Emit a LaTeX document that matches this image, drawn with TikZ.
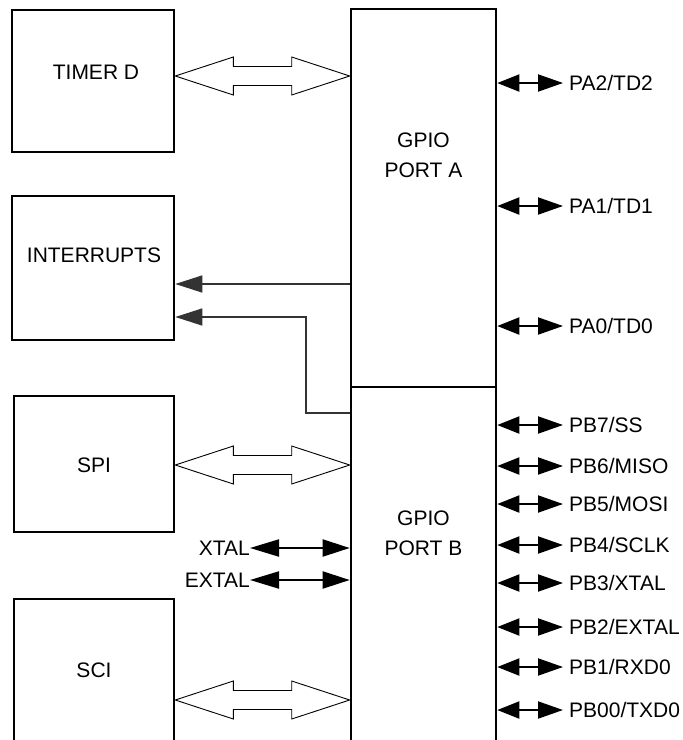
\documentclass[tikz,border=0pt]{standalone}
\usepackage{fontspec}
\setmainfont{Liberation Sans}
\usetikzlibrary{arrows.meta,calc}
\definecolor{ink}{HTML}{333333}
\newcommand\hollowdbl[2]{%
  \draw[hollow] let \p1=#1, \p2=#2, \n1={\x2-\x1-116pt} in
    (\p1) -- ++(58,-19) -- ++(0,9.5) -- ++(\n1,0) -- ++(0,-9.5) -- (\p2)
    -- ++(-58,19) -- ++(0,-9.5) -- ++(-\n1,0) -- ++(0,9.5) -- cycle;}
\begin{document}
\begin{tikzpicture}[x=1pt,y=-1pt,
  blk/.style={draw, line width=2.6pt, inner sep=0pt},
  lbl/.style={font=\fontsize{21}{30}\selectfont, inner sep=0pt, align=center},
  hollow/.style={draw=black, line width=0.9pt, fill=white, line join=miter},
  pin/.style={line width=2pt, {Triangle[length=22pt,width=17pt]}-{Triangle[length=25pt,width=17pt]}},
  xpin/.style={line width=2pt, {Triangle[length=29pt,width=17pt]}-{Triangle[length=27pt,width=17pt]}},
  intarrow/.style={draw=ink, line width=1.4pt, -{Triangle[length=27pt,width=17pt]}, color=ink}]
\useasboundingbox (0,0) rectangle (683,740);

% blocks
\node[blk, minimum width=162pt, minimum height=142pt] (timer) at (93,81) {};
\node[blk, minimum width=162pt, minimum height=144pt] (intr) at (93,268) {};
\node[blk, minimum width=160pt, minimum height=136pt] (spi) at (94,464) {};
\node[blk, minimum width=160pt, minimum height=143pt] (sci) at (94,670.5) {};
\node[blk, minimum width=145pt, minimum height=378pt] (gpioA) at (423.5,198) {};
\node[blk, minimum width=145pt, minimum height=355pt] (gpioB) at (423.5,564.5) {};

% block texts
\node[lbl] (ttimer) at (96,72) {TIMER D};
\node[lbl] (tintr) at (94,255) {INTERRUPTS};
\node[lbl] (tspi) at (94,465) {SPI};
\node[lbl] (tsci) at (94,670) {SCI};
\node[lbl] (tgA) at (423.5,155) {GPIO\\PORT A};
\node[lbl] (tgB) at (423.5,533) {GPIO\\PORT B};

% hollow bus arrows
\coordinate (ta) at (timer.east |- 0,76);
\coordinate (tb) at (gpioA.west |- 0,76);
\hollowdbl{(ta)}{(tb)}
\coordinate (sa) at (spi.east |- 0,465);
\coordinate (sb) at (gpioB.west |- 0,465);
\hollowdbl{(sa)}{(sb)}
\coordinate (ca) at (sci.east |- 0,700);
\coordinate (cb) at (gpioB.west |- 0,700);
\hollowdbl{(ca)}{(cb)}

% interrupt lines
\coordinate (i1) at (intr.east |- 0,284);
\draw[intarrow] (gpioA.west |- i1) -- (i1);
\coordinate (i2) at (intr.east |- 0,317);
\coordinate (i2s) at (gpioB.west |- 0,413);
\draw[intarrow] (i2s) -- (306,413) -- (306,317) -- (i2);

% XTAL / EXTAL
\node[lbl, anchor=east] (xtal) at (250,548) {XTAL};
\draw[xpin] (xtal.east) -- (xtal.east -| gpioB.west);
\node[lbl, anchor=east] (extal) at (250,580) {EXTAL};
\draw[xpin] (extal.east) -- (extal.east -| gpioB.west);

% port pins
\foreach \nm/\yy/\txt/\g in {pa2/83/PA2\slash TD2/gpioA, pa1/206/PA1\slash TD1/gpioA, pa0/326/PA0\slash TD0/gpioA,
  pb7/425/PB7\slash SS/gpioB, pb6/466/PB6\slash MISO/gpioB, pb5/504/PB5\slash MOSI/gpioB,
  pb4/545/PB4\slash SCLK/gpioB, pb3/583/PB3\slash XTAL/gpioB, pb2/627/PB2\slash EXTAL/gpioB,
  pb1/667/PB1\slash RXD0/gpioB, pb0/710/PB00\slash TXD0/gpioB}{
  \node[lbl, anchor=west] (\nm) at (569,\yy) {\txt};
  \draw[pin] (\nm.west -| \g.east) -- ([xshift=-6pt]\nm.west);
}
\end{tikzpicture}
\end{document}
